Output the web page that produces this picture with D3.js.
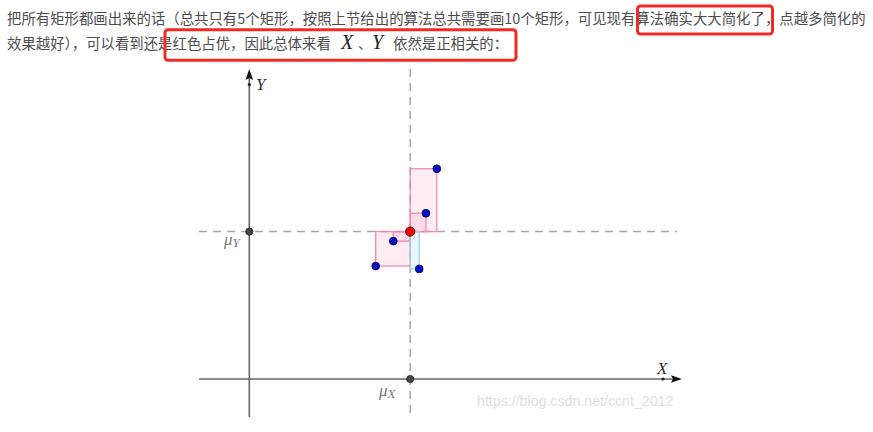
<!DOCTYPE html>
<html><head><meta charset="utf-8">
<script src="https://cdn.jsdelivr.net/npm/d3@7"></script>
<style>html,body{margin:0;padding:0;background:#fff;}svg{display:block;}</style>
</head><body>
<svg id="c" width="873" height="432"></svg>
<script>
// ---- data ----
const pointX = [5.86, 5.52, 4.50, 3.95, 5.31];
const pointY = [6.57, 5.18, 4.31, 3.53, 3.44];
const axisLabels = ["X", "Y"];
const meanLabels = ["μ", "X", "Y"];
const line1 = "把所有矩形都画出来的话（总共只有5个矩形，按照上节给出的算法总共需要画10个矩形，可见现有算法确实大大简化了，点越多简化的";
const line2a = "效果越好），可以看到还是红色占优，因此总体来看";
const line2b = "依然是正相关的：";
const watermark = "https://blog.csdn.net/ccnt_2012";

const svg = d3.select("#c");
const x = d3.scaleLinear().domain([0, 10]).range([249.3, 569.3]);
const y = d3.scaleLinear().domain([0, 10]).range([379, 59]);
const xMin = -1.57, xMax = 13.52, yMin = -1.19, yMax = 9.69;

// ---- text ----
const cjk = "'Noto Sans CJK SC','Noto Sans',sans-serif";
const serif = "'Liberation Serif','DejaVu Serif',serif";
svg.append("text").attr("x", 7).attr("y", 24).attr("font-family", cjk).attr("font-size", 14.4)
  .attr("fill", "#4d4d4d").text(line1);
const t2 = svg.append("text").attr("x", 7).attr("y", 49).attr("font-family", cjk).attr("font-size", 14.4).attr("fill", "#4d4d4d");
t2.append("tspan").text(line2a);
t2.append("tspan").attr("x", 341).attr("font-family", serif).attr("font-style", "italic").attr("font-size", 20).attr("fill", "#222").text(axisLabels[0]);
t2.append("tspan").attr("x", 358).text("、");
t2.append("tspan").attr("x", 372).attr("font-family", serif).attr("font-style", "italic").attr("font-size", 20).attr("fill", "#222").text(axisLabels[1]);
t2.append("tspan").attr("x", 393).text(line2b);

// red highlight boxes
svg.append("rect").attr("x", 637.5).attr("y", 6).attr("width", 135).attr("height", 28).attr("rx", 3)
  .attr("fill", "none").attr("stroke", "#f02b25").attr("stroke-width", 3);
svg.append("rect").attr("x", 165).attr("y", 29.8).attr("width", 351).attr("height", 30.5).attr("rx", 3)
  .attr("fill", "none").attr("stroke", "#f02b25").attr("stroke-width", 3);

// ---- chart ----
const pts = pointX.map((v, i) => ({x: v, y: pointY[i]}));
const mx = d3.mean(pointX), my = d3.mean(pointY);

const g = svg.append("g");
// dashed mean lines
g.append("line").attr("x1", x(mx)).attr("x2", x(mx)).attr("y1", y(yMax)).attr("y2", y(yMin))
  .attr("stroke", "#a8a8a8").attr("stroke-width", 1.5).attr("stroke-dasharray", "8,6");
g.append("line").attr("x1", x(xMin)).attr("x2", x(13.37)).attr("y1", y(my)).attr("y2", y(my))
  .attr("stroke", "#a8a8a8").attr("stroke-width", 1.5).attr("stroke-dasharray", "8,6");

// axes
g.append("line").attr("x1", x(xMin)).attr("x2", x(xMax) - 6).attr("y1", y(0)).attr("y2", y(0))
  .attr("stroke", "#666").attr("stroke-width", 1.6);
g.append("line").attr("x1", x(0)).attr("x2", x(0)).attr("y1", y(yMin)).attr("y2", y(yMax) + 6)
  .attr("stroke", "#666").attr("stroke-width", 1.6);
const tx = x(xMax), ty = y(0);
g.append("path").attr("d", `M${tx},${ty} L${tx-11},${ty-3.8} L${tx-9},${ty} L${tx-11},${ty+3.8} Z`).attr("fill", "#111");
const ax = x(0), ay = y(yMax);
g.append("path").attr("d", `M${ax},${ay} L${ax-3.8},${ay+11} L${ax},${ay+9} L${ax+3.8},${ay+11} Z`).attr("fill", "#111");
g.append("circle").attr("cx", x(12.93)).attr("cy", y(0)).attr("r", 1.6).attr("fill", "#222");
g.append("circle").attr("cx", x(0)).attr("cy", y(9.2)).attr("r", 1.6).attr("fill", "#222");

// rectangles
g.selectAll("rect.r").data(pts).enter().append("rect").attr("class", "r")
  .attr("x", d => Math.min(x(d.x), x(mx)))
  .attr("y", d => Math.min(y(d.y), y(my)))
  .attr("width", d => Math.abs(x(d.x) - x(mx)))
  .attr("height", d => Math.abs(y(d.y) - y(my)))
  .attr("fill", d => (d.x - mx) * (d.y - my) >= 0 ? "rgba(255,80,140,0.10)" : "rgba(90,175,240,0.13)")
  .attr("stroke", d => (d.x - mx) * (d.y - my) >= 0 ? "#f38aae" : "#9ed2f2")
  .attr("stroke-width", 1.3);

// mean marks on axes
g.append("circle").attr("cx", x(mx)).attr("cy", y(0)).attr("r", 3.6).attr("fill", "#444").attr("stroke", "#222").attr("stroke-width", 0.8);
g.append("circle").attr("cx", x(0)).attr("cy", y(my)).attr("r", 3.6).attr("fill", "#444").attr("stroke", "#222").attr("stroke-width", 0.8);

// points
g.selectAll("circle.p").data(pts).enter().append("circle").attr("class", "p")
  .attr("cx", d => x(d.x)).attr("cy", d => y(d.y)).attr("r", 3.9)
  .attr("fill", "#0010c8").attr("stroke", "#000050").attr("stroke-width", 0.8);
g.append("circle").attr("cx", x(mx)).attr("cy", y(my)).attr("r", 4.6)
  .attr("fill", "#f00000").attr("stroke", "#700000").attr("stroke-width", 1);

// labels
g.append("text").attr("x", 256).attr("y", 90).attr("font-family", serif).attr("font-style", "italic")
  .attr("font-size", 17).attr("fill", "#333").text(axisLabels[1]);
g.append("text").attr("x", 657).attr("y", 374).attr("font-family", serif).attr("font-style", "italic")
  .attr("font-size", 17).attr("fill", "#333").text(axisLabels[0]);
const my1 = g.append("text").attr("x", 224).attr("y", 245).attr("font-family", serif).attr("font-style", "italic")
  .attr("font-size", 17).attr("fill", "#777");
my1.append("tspan").text(meanLabels[0]);
my1.append("tspan").attr("dy", 2).attr("font-size", 13).text(meanLabels[2]);
const mx1 = g.append("text").attr("x", 379).attr("y", 396).attr("font-family", serif).attr("font-style", "italic")
  .attr("font-size", 17).attr("fill", "#777");
mx1.append("tspan").text(meanLabels[0]);
mx1.append("tspan").attr("dy", 2).attr("font-size", 13).text(meanLabels[1]);

// watermark
svg.append("text").attr("x", 477).attr("y", 406).attr("font-family", "'Liberation Sans',Arial,sans-serif")
  .attr("font-size", 14.2).attr("fill", "#e0e0e0").text(watermark);
</script>
</body></html>
